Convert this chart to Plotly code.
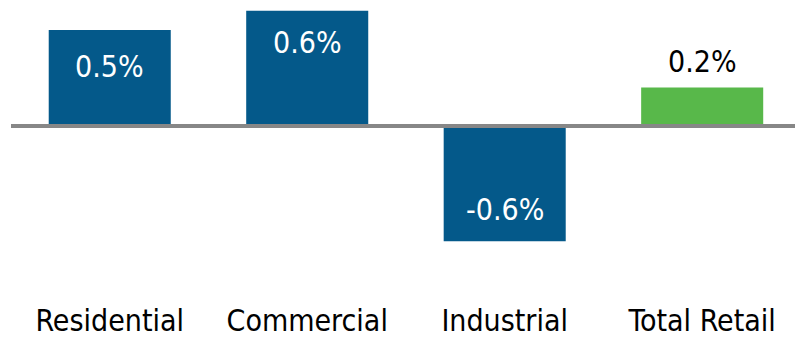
import plotly.graph_objects as go

categories = ["Residential", "Commercial", "Industrial", "Total Retail"]
values = [0.5, 0.6, -0.6, 0.2]
labels = ["0.5%", "0.6%", "-0.6%", "0.2%"]
colors = ["#04598A", "#04598A", "#04598A", "#58B84A"]
label_colors = ["white", "white", "white", "black"]
label_shift = [-37, -32, 32, 26]

FONT = "DejaVu Sans Condensed, Liberation Sans Narrow, Arial Narrow, sans-serif"

fig = go.Figure()
fig.add_trace(go.Bar(
    x=list(range(len(categories))), y=values,
    marker=dict(color=colors, line=dict(width=0)),
    width=0.618, hoverinfo="skip",
))

for i, (v, t, c, s) in enumerate(zip(values, labels, label_colors, label_shift)):
    fig.add_annotation(x=i, y=v, text=t, showarrow=False, yshift=s,
                       font=dict(family=FONT, size=30, color=c),
                       xanchor="center", yanchor="middle")

fig.add_shape(type="line", xref="paper", yref="y", x0=0, x1=1, y0=0, y1=0,
              line=dict(color="#878787", width=4))

fig.update_layout(
    width=795, height=340,
    margin=dict(l=11, r=0, t=0, b=40),
    paper_bgcolor="white", plot_bgcolor="white",
    showlegend=False,
    xaxis=dict(range=[-0.5, 3.47], tickmode="array",
               tickvals=list(range(len(categories))), ticktext=categories,
               showgrid=False, zeroline=False, showline=False, ticks="",
               tickfont=dict(family=FONT, size=30, color="black")),
    yaxis=dict(range=[-0.906, 0.656], visible=False, showgrid=False, zeroline=False),
)

fig.write_html("out.html")
